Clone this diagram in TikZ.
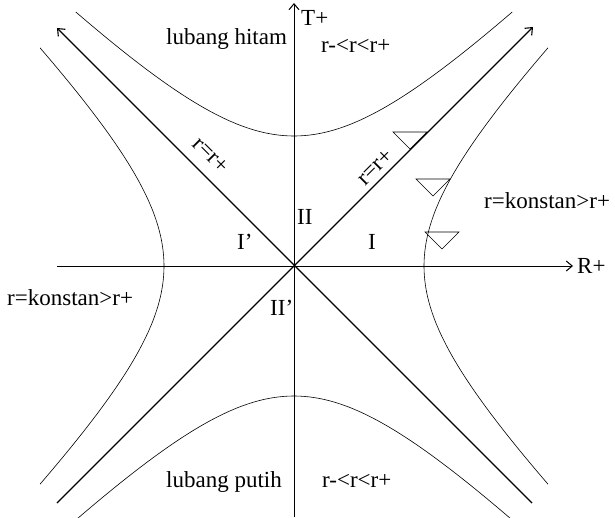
\documentclass[tikz,border=0pt]{standalone}
\usepackage{fontspec}
\setmainfont{Liberation Serif}
\usetikzlibrary{positioning, arrows.meta}
\colorlet{ink}{black}
\tikzset{
  axisline/.style ={-{Straight Barb[length=6pt,width=10pt]}, ink, line width=1pt},
  horizon/.style  ={axisline, line width=1.1pt},
  hyper/.style    ={ink, line width=0.6pt, smooth, samples=80,
                    variable=\t, domain=-1.29:1.29},
  cone/.style     ={ink, line width=0.6pt, line join=miter},
  lbl/.style      ={font=\fontsize{23}{27}\selectfont, inner sep=0pt,
                    anchor=base west},
}

\begin{document}
\begin{tikzpicture}[x=1pt, y=1pt]
\useasboundingbox (-294,-251) rectangle (321,266);

% axes
\coordinate (Rbeg) at (-237,0);
\coordinate (Rend) at (279,0);
\coordinate (Tbeg) at (0,-251);
\coordinate (Tend) at (0,263);
\draw[axisline] (Rbeg) -- (Rend);
\draw[axisline] (Tbeg) -- (Tend);
\node[lbl, right=4pt of Rend] (Rlbl) {R+};
\node[lbl, below right=7pt and 7pt of Tend] (Tlbl) {T+};

% horizons
\coordinate (SW) at (-237,-237);
\coordinate (NE) at (239,239);
\coordinate (SE) at (238,-237);
\coordinate (NW) at (-237,238);
\draw[horizon] (SW) -- (NE);
\draw[horizon] (SE) -- (NW);
\node[lbl, anchor=center, rotate=45]  (hzR) at (81,99)   {r=r+};
\node[lbl, anchor=center, rotate=-45] (hzL) at (-83,111) {r=r+};

% curves of constant r
\draw[hyper] plot ({130*cosh(\t)}, {130*sinh(\t)});
\draw[hyper] plot ({-130*cosh(\t)}, {130*sinh(\t)});
\draw[hyper] plot ({130*sinh(\t)}, {130*cosh(\t)});
\draw[hyper] plot ({130*sinh(\t)}, {-130*cosh(\t)});

% light cones
\foreach \x/\y in {99/134, 122/87, 131/34} {
  \draw[cone] (\x,\y) -- ++(34,0) -- ++(-17,-17) -- cycle;
}

% regions
\node[lbl] (bh)  at (-128,221) {lubang hitam};
\node[lbl] (bhr) at (27,213)   {r-<r<r+};
\node[lbl] (wh)  at (-128,-221) {lubang putih};
\node[lbl] (whr) at (28,-221)  {r-<r<r+};
\node[lbl] (rgII)  at (3,42)    {II};
\node[lbl] (rgI)   at (74,17)   {I};
\node[lbl] (rgIp)  at (-57,17)  {I'};
\node[lbl] (rgIIp) at (-24,-49) {II'};
\node[lbl] (kR) at (190,58)   {r=konstan>r+};
\node[lbl] (kL) at (-287,-39) {r=konstan>r+};

\end{tikzpicture}
\end{document}
